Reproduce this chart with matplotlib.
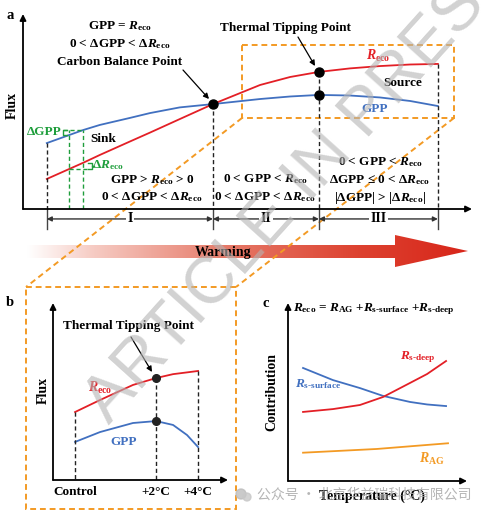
import numpy as np
import matplotlib
matplotlib.use('Agg')
import matplotlib.pyplot as plt
from matplotlib.patches import Polygon, Rectangle, Circle
from matplotlib.colors import LinearSegmentedColormap

plt.rcParams['font.family'] = ['Liberation Serif', 'DejaVu Serif']
plt.rcParams['font.weight'] = 'bold'
plt.rcParams['mathtext.fontset'] = 'custom'
plt.rcParams['mathtext.rm'] = 'Liberation Serif:bold'
plt.rcParams['mathtext.it'] = 'Liberation Serif:italic:bold'
plt.rcParams['mathtext.bf'] = 'Liberation Serif:bold'

# ---------------- data ----------------
# Panel a (schematic units: warming / flux)
a_temp = [5.3, 13.4, 17.1, 23.8, 28.3, 34.9, 42.3, 52.8, 59.5, 65.9, 72.8, 79.5, 86.2, 92.4]
a_gpp = [33.8, 40.5, 43.1, 46.7, 49.2, 52.1, 53.8, 56.4, 57.7, 58.5, 58.2, 57.2, 55.4, 52.8]
a_reco = [15.4, 23.7, 27.7, 34.6, 39.2, 46.1, 53.8, 63.6, 67.7, 70.3, 72.1, 73.3, 74.1, 74.4]
a_balance_idx = 6
a_tipping_idx = 9
a_bounds = [5.3, 42.3, 65.9, 92.4]
a_phases = ['I', 'II', 'III']
a_delta_temp = [10.2, 13.4]
a_delta_gpp = [37.9, 40.5]
a_delta_reco = [20.5, 23.7]

# Panel b
b_temp = [1.26, 2.69, 4.57, 5.89, 6.86, 7.66, 8.29]
b_gpp = [2.15, 2.71, 3.22, 3.33, 3.11, 2.54, 1.86]
b_reco = [3.84, 4.52, 5.37, 5.76, 5.98, 6.08, 6.16]
b_tip_idx = 3
b_tick_x = [1.26, 5.89, 8.29]
b_tick_labels = ['Control', '+2°C', '+4°C']

# Panel c
c_temp = [0.84, 2.51, 4.02, 5.31, 6.82, 7.77, 8.83]
c_surface = [6.35, 5.67, 5.22, 4.78, 4.44, 4.30, 4.21]
c_deep = [3.88, 4.04, 4.27, 4.72, 5.51, 6.01, 6.74]
c_ag_temp = [0.84, 4.97, 8.94]
c_ag = [1.59, 1.80, 2.12]

# ---------------- style ----------------
RED = '#e31f26'
BLUE = '#4170c0'
GREEN = '#1f9e3c'
ORANGE = '#f39a24'
DARK = '#222222'

W, H = 482, 518
fig = plt.figure(figsize=(W / 100, H / 100), dpi=100)
fig.patch.set_facecolor('white')


def fax(l, t, r, b):
    return [l / W, 1 - b / H, (r - l) / W, (b - t) / H]


bg = fig.add_axes([0, 0, 1, 1], zorder=0)
axa = fig.add_axes(fax(23, 14, 472, 209), zorder=2)
axb = fig.add_axes(fax(53, 303, 228, 480), zorder=2)
axc = fig.add_axes(fax(288, 303, 467, 481), zorder=2)
top = fig.add_axes([0, 0, 1, 1], zorder=5)
for ov in (bg, top):
    ov.set_facecolor('none')
    ov.axis('off')

for ax in (axa, axb, axc):
    ax.set_facecolor('none')
    for s in ax.spines.values():
        s.set_visible(False)
    ax.set_xticks([])
    ax.set_yticks([])
    kw = dict(arrowstyle='-|>', color='k', lw=1.3, mutation_scale=9, shrinkA=0, shrinkB=0)
    ax.annotate('', xy=(0, 1), xytext=(0, 0), xycoords='axes fraction', arrowprops=kw, annotation_clip=False)
    ax.annotate('', xy=(1, 0), xytext=(0, 0), xycoords='axes fraction', arrowprops=kw, annotation_clip=False)

axa.set_xlim(0, 100); axa.set_ylim(0, 100)
axb.set_xlim(0, 10); axb.set_ylim(0, 10)
axc.set_xlim(0, 10); axc.set_ylim(0, 10)

# ---------------- background: orange zoom lines + warming arrow ----------------
odash = dict(color=ORANGE, lw=1.4, dashes=(3, 2))
bg.add_patch(Rectangle((242, 45), 212, 73, fill=False, edgecolor=ORANGE, lw=1.4, linestyle=(0, (3, 2))))
bg.plot([242, 26], [118, 287], **odash)
bg.plot([454, 236], [118, 287], **odash)
bg.add_patch(Rectangle((26, 287), 210, 222, fill=False, edgecolor=ORANGE, lw=1.4, linestyle=(0, (3, 2))))

poly = Polygon([(27, 245), (395, 245), (395, 235), (468, 251), (395, 267), (395, 258), (27, 258)],
               closed=True, facecolor='none', edgecolor='none')
bg.add_patch(poly)
cmap = LinearSegmentedColormap.from_list('warm', [(0, '#ffffff'), (0.15, '#f6cbc3'), (0.45, '#e67a69'),
                                                  (0.75, '#dd4230'), (1, '#d8261a')])
im = bg.imshow(np.linspace(0, 1, 256).reshape(1, -1), extent=(27, 468, 267, 235), cmap=cmap,
               aspect='auto', interpolation='bicubic', zorder=1)
im.set_clip_path(poly)
bg.set_xlim(0, W)
bg.set_ylim(H, 0)

# ---------------- panel a ----------------
axa.plot(a_temp, a_gpp, color=BLUE, lw=1.3, clip_on=False)
axa.plot(a_temp, a_reco, color=RED, lw=1.3, clip_on=False)
dk = dict(color=DARK, lw=1.0, dashes=(3, 2))
for xb in a_bounds:
    i = a_temp.index(xb)
    axa.plot([xb, xb], [max(a_gpp[i], a_reco[i]), 0], **dk)
    axa.plot([xb, xb], [0, -10.3], color='#444444', lw=1.0, clip_on=False)
axa.plot([a_temp[a_balance_idx]], [a_gpp[a_balance_idx]], 'o', color='k', ms=6.5, zorder=5)
axa.plot([a_temp[a_tipping_idx]] * 2, [a_gpp[a_tipping_idx], a_reco[a_tipping_idx]], 'o', color='k', ms=6.5, zorder=5)
for k, lab in enumerate(a_phases):
    x0, x1 = a_bounds[k], a_bounds[k + 1]
    axa.annotate('', xy=(x0, -5.1), xytext=(x1, -5.1),
                 arrowprops=dict(arrowstyle='<|-|>', color='#333333', lw=1.0, mutation_scale=7, shrinkA=0, shrinkB=0),
                 annotation_clip=False)
    axa.text((x0 + x1) / 2, -5.1, lab, ha='center', va='center', fontsize=10, clip_on=False,
             bbox=dict(facecolor='white', edgecolor='none', pad=1.2))
# green delta markers
gd = dict(color=GREEN, lw=1.0, dashes=(3, 2))
for xd in a_delta_temp:
    axa.plot([xd, xd], [0, a_delta_gpp[1]], **gd)
axa.plot([8.9, a_delta_temp[1]], [a_delta_gpp[1]] * 2, **gd)
axa.plot([a_delta_temp[0], 14.5], [a_delta_reco[0]] * 2, **gd)
axa.plot([9.8, 8.9, 8.9, 9.8], [a_delta_gpp[1], a_delta_gpp[1], a_delta_gpp[0], a_delta_gpp[0]], color=GREEN, lw=1.0)
axa.plot([14.5, 15.3, 15.3, 15.9, 15.3, 15.3, 14.5],
         [a_delta_reco[0], a_delta_reco[0], 22.1, 22.1, 22.1, a_delta_reco[1], a_delta_reco[1]], color=GREEN, lw=1.0)

# ---------------- panel b ----------------
axb.plot(b_temp, b_reco, color=RED, lw=1.3)
axb.plot(b_temp, b_gpp, color=BLUE, lw=1.3)
for xt in b_tick_x:
    i = b_temp.index(xt)
    axb.plot([xt, xt], [b_reco[i], 0], **dk)
axb.plot([b_temp[b_tip_idx]] * 2, [b_gpp[b_tip_idx], b_reco[b_tip_idx]], 'o', color='#222222', ms=5.5, zorder=5)
axb.set_xticks(b_tick_x, b_tick_labels)
axb.tick_params(length=0, pad=4, labelsize=9.5)

# ---------------- panel c ----------------
axc.plot(c_temp, c_surface, color=BLUE, lw=1.3)
axc.plot(c_temp, c_deep, color=RED, lw=1.3)
axc.plot(c_ag_temp, c_ag, color=ORANGE, lw=1.3)

# ---------------- text (pixel coordinates) ----------------
top.set_xlim(0, W)
top.set_ylim(H, 0)
RE = r'$R_{\mathrm{eco}}$'


def T(x, y, s, size=9.5, color='k', ha='center'):
    top.text(x, y + 0.46 * size, s, fontsize=size, color=color, ha=ha, va='baseline')


T(10, 14, 'a', 10.5)
T(120, 25, 'GPP = ' + RE)
T(120, 43, '0 < ΔGPP < Δ' + RE)
T(120, 61, 'Carbon Balance Point')
T(285, 27, 'Thermal Tipping Point')
T(378, 55, RE, 10, RED)
T(403, 82, 'Source')
T(375, 108, 'GPP', 9.5, BLUE)
T(103, 138, 'Sink')
T(152, 179, 'GPP > ' + RE + ' > 0')
T(152, 196, '0 < ΔGPP < Δ' + RE)
T(265, 178, '0 < GPP < ' + RE)
T(265, 196, '0 < ΔGPP < Δ' + RE)
T(380, 161, '0 < GPP < ' + RE)
T(380, 179, 'ΔGPP ≤ 0 < Δ' + RE)
T(380, 197, '|ΔGPP| > |Δ' + RE + '|')
T(62, 131, 'ΔGPP', 9.5, GREEN, 'right')
T(92, 164, 'Δ' + RE, 9.5, GREEN, 'left')
top.text(12, 105, 'Flux', rotation=90, ha='center', va='center', fontsize=10)
T(223, 251, 'Warming', 10)
top.annotate('', xy=(209, 99), xytext=(183, 70),
             arrowprops=dict(arrowstyle='-|>', color='k', lw=0.9, mutation_scale=8, shrinkA=0, shrinkB=0))
top.annotate('', xy=(315, 66), xytext=(298, 37),
             arrowprops=dict(arrowstyle='-|>', color='k', lw=0.9, mutation_scale=8, shrinkA=0, shrinkB=0))

T(10, 301, 'b', 10.5)
T(128, 325, 'Thermal Tipping Point')
T(100, 387, RE, 10, RED)
T(124, 441, 'GPP', 9.5, BLUE)
top.text(43, 390, 'Flux', rotation=90, ha='center', va='center', fontsize=10)
top.annotate('', xy=(152, 372), xytext=(131, 337),
             arrowprops=dict(arrowstyle='-|>', color='k', lw=0.9, mutation_scale=8, shrinkA=0, shrinkB=0))

T(266, 302, 'c', 10.5)
T(374, 307, r'$R_{\mathrm{eco}}$ = $R_{\mathrm{AG}}$ +$R_{\text{s-surface}}$ +$R_{\text{s-deep}}$', 9.5)
top.text(272, 392, 'Contribution', rotation=90, ha='center', va='center', fontsize=10)
T(372, 495, 'Temperature (°C)', 10)
T(418, 355, r'$R_{\text{s-deep}}$', 9.5, RED)
T(318, 383, r'$R_{\text{s-surface}}$', 9.5, BLUE)
T(432, 458, r'$R_{\mathrm{AG}}$', 10, ORANGE)

# watermarks
top.text(301, 188, 'ARTICLE IN PRESS', rotation=48, rotation_mode='anchor', ha='center', va='center',
         fontsize=48, color='#b4b4b4', alpha=0.6, family='Liberation Sans', weight='normal')
top.add_patch(Circle((241, 494), 5, color='#bdbdbd', alpha=0.8))
top.add_patch(Circle((247, 497), 4, color='#c8c8c8', alpha=0.8))
top.text(257, 495, '公众号 · 北京华益瑞科技有限公司', family=['Noto Sans CJK SC', 'DejaVu Sans'],
         fontsize=10, color='#a8a8a8', alpha=0.85, ha='left', va='center', weight='normal')

fig.savefig('out.png', dpi=100)
